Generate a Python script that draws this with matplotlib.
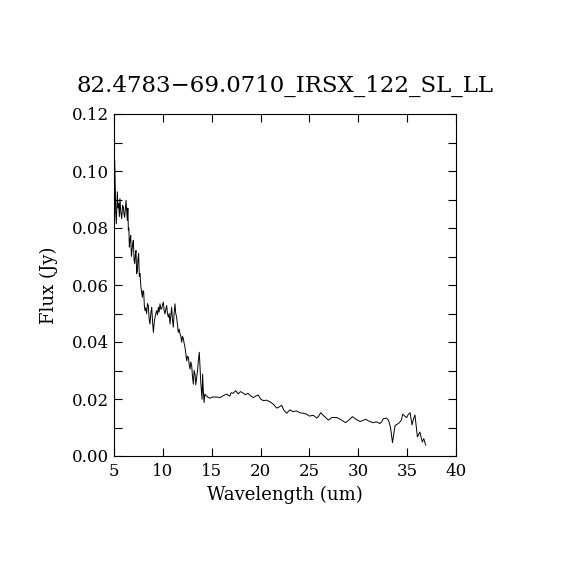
import numpy as np
import matplotlib
matplotlib.use("Agg")
import matplotlib.pyplot as plt

# Spectrum (wavelength in um, flux in Jy)
wave = [5.02, 5.07, 5.14, 5.17, 5.24, 5.34, 5.41, 5.48, 5.55, 5.61, 5.70, 5.79,
        5.88, 5.96, 6.02, 6.09, 6.16, 6.23, 6.30, 6.36, 6.42, 6.47, 6.52, 6.57,
        6.64, 6.71, 6.78, 6.84, 6.91, 6.98, 7.05, 7.12, 7.18, 7.25, 7.32, 7.39,
        7.45, 7.52, 7.59, 7.66, 7.76, 7.90, 7.97, 8.04, 8.10, 8.17, 8.25, 8.34,
        8.42, 8.51, 8.60, 8.68, 8.77, 8.86, 8.95, 9.03, 9.12, 9.20, 9.28, 9.37,
        9.45, 9.54, 9.62, 9.71, 9.80, 9.88, 9.96, 10.05, 10.13, 10.22, 10.30,
        10.39, 10.47, 10.56, 10.65, 10.73, 10.81, 10.90, 10.98, 11.07, 11.15,
        11.24, 11.32, 11.41, 11.50, 11.58, 11.67, 11.76, 11.84, 11.93, 12.01,
        12.10, 12.18, 12.27, 12.35, 12.44, 12.52, 12.61, 12.70, 12.78, 12.86,
        12.95, 13.03, 13.12, 13.20, 13.29, 13.37, 13.46, 13.55, 13.63, 13.73,
        13.80, 13.87, 13.94, 14.01, 14.07, 14.14, 14.22, 14.30, 14.48, 14.65,
        14.83, 15.10, 15.51, 15.85, 16.20, 16.53, 16.85, 17.00, 17.20, 17.45,
        17.70, 17.95, 18.20, 18.45, 18.70, 18.95, 19.26, 19.50, 19.77, 20.00,
        20.28, 20.60, 20.97, 21.30, 21.65, 21.90, 22.16, 22.40, 22.67, 23.00,
        23.30, 23.70, 24.00, 24.35, 24.70, 25.00, 25.40, 25.75, 25.95, 26.15,
        26.50, 26.94, 27.30, 27.80, 28.20, 28.70, 29.00, 29.40, 29.80, 30.20,
        30.50, 30.76, 31.10, 31.50, 31.85, 32.20, 32.40, 32.56, 32.90, 33.10,
        33.30, 33.50, 33.76, 34.00, 34.20, 34.40, 34.55, 34.75, 34.96, 35.10,
        35.30, 35.50, 35.65, 35.80, 36.05, 36.30, 36.55, 36.70, 36.90]
flux = [0.0880, 0.1038, 0.0927, 0.0856, 0.0815, 0.0927, 0.0870, 0.0886, 0.0840,
        0.0903, 0.0855, 0.0833, 0.0880, 0.0874, 0.0850, 0.0838, 0.0870, 0.0897,
        0.0860, 0.0826, 0.0870, 0.0792, 0.0800, 0.0733, 0.0760, 0.0774, 0.0700,
        0.0721, 0.0745, 0.0757, 0.0690, 0.0675, 0.0705, 0.0721, 0.0640, 0.0651,
        0.0690, 0.0710, 0.0630, 0.0640, 0.0592, 0.0557, 0.0580, 0.0575, 0.0530,
        0.0510, 0.0520, 0.0499, 0.0535, 0.0528, 0.0480, 0.0463, 0.0500, 0.0522,
        0.0470, 0.0434, 0.0470, 0.0487, 0.0500, 0.0510, 0.0495, 0.0522, 0.0505,
        0.0534, 0.0515, 0.0516, 0.0530, 0.0540, 0.0510, 0.0499, 0.0515, 0.0528,
        0.0500, 0.0487, 0.0500, 0.0463, 0.0490, 0.0522, 0.0480, 0.0452, 0.0500,
        0.0534, 0.0500, 0.0487, 0.0460, 0.0434, 0.0445, 0.0428, 0.0420, 0.0399,
        0.0420, 0.0411, 0.0395, 0.0381, 0.0360, 0.0334, 0.0350, 0.0346, 0.0320,
        0.0305, 0.0330, 0.0317, 0.0280, 0.0252, 0.0300, 0.0287, 0.0250, 0.0276,
        0.0300, 0.0334, 0.0364, 0.0310, 0.0264, 0.0230, 0.0199, 0.0287, 0.0229,
        0.0188, 0.0217, 0.0211, 0.0205, 0.0203, 0.0207, 0.0207, 0.0205, 0.0212,
        0.0217, 0.0210, 0.0222, 0.0220, 0.0229, 0.0218, 0.0226, 0.0221, 0.0215,
        0.0220, 0.0212, 0.0205, 0.0210, 0.0214, 0.0200, 0.0194, 0.0196, 0.0190,
        0.0182, 0.0168, 0.0172, 0.0178, 0.0160, 0.0150, 0.0162, 0.0156, 0.0158,
        0.0152, 0.0150, 0.0147, 0.0140, 0.0143, 0.0133, 0.0140, 0.0152, 0.0140,
        0.0126, 0.0135, 0.0135, 0.0128, 0.0117, 0.0125, 0.0138, 0.0128, 0.0121,
        0.0125, 0.0129, 0.0122, 0.0117, 0.0120, 0.0114, 0.0120, 0.0131, 0.0133,
        0.0125, 0.0100, 0.0047, 0.0106, 0.0112, 0.0117, 0.0125, 0.0147, 0.0140,
        0.0135, 0.0145, 0.0152, 0.0109, 0.0130, 0.0144, 0.0067, 0.0084, 0.0049,
        0.0061, 0.0038]

title = "82.4783\u221269.0710_IRSX_122_SL_LL"

plt.rcParams['font.family'] = ['DejaVu Serif']

fig = plt.figure(figsize=(5.7, 5.7), dpi=100)
ax = fig.add_axes([0.2, 0.2, 0.6, 0.6])
ax.plot(wave, flux, color='black', lw=0.7)

ax.set_xlim(5, 40)
ax.set_ylim(0, 0.12)
ax.set_xticks(np.arange(5, 41, 5))
ax.set_yticks(np.arange(0, 0.121, 0.02))
ax.set_yticks(np.arange(0.01, 0.12, 0.02), minor=True)
ax.set_yticklabels(["%.2f" % v for v in np.arange(0, 0.121, 0.02)])
ax.tick_params(which='both', direction='in', length=6, width=0.8,
               top=True, right=True, labelsize=12)
ax.tick_params(axis='x', pad=5)
for sp in ax.spines.values():
    sp.set_linewidth(0.8)

ax.set_xlabel("Wavelength (um)", fontsize=13, labelpad=4)
ax.set_ylabel("Flux (Jy)", fontsize=13, labelpad=10)
ax.set_title(title, fontsize=16.5, pad=16)

fig.savefig("out.png", dpi=100)
